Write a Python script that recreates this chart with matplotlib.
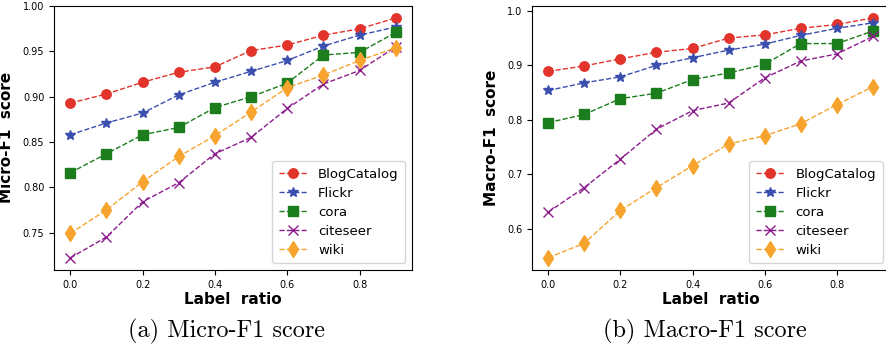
import numpy as np
import matplotlib.pyplot as plt

ratio = [0.0, 0.1, 0.2, 0.3, 0.4, 0.5, 0.6, 0.7, 0.8, 0.9]
names = ['BlogCatalog', 'Flickr', 'cora', 'citeseer', 'wiki']

micro_blog = [0.893, 0.903, 0.916, 0.927, 0.933, 0.951, 0.957, 0.968, 0.975, 0.987]
micro_flickr = [0.858, 0.871, 0.882, 0.902, 0.916, 0.928, 0.940, 0.956, 0.968, 0.977]
micro_cora = [0.816, 0.837, 0.858, 0.866, 0.888, 0.900, 0.915, 0.946, 0.949, 0.971]
micro_citeseer = [0.722, 0.745, 0.784, 0.805, 0.837, 0.855, 0.887, 0.914, 0.929, 0.955]
micro_wiki = [0.749, 0.775, 0.806, 0.834, 0.857, 0.883, 0.910, 0.924, 0.940, 0.954]

macro_blog = [0.889, 0.899, 0.912, 0.924, 0.931, 0.950, 0.956, 0.968, 0.975, 0.987]
macro_flickr = [0.854, 0.868, 0.879, 0.900, 0.914, 0.928, 0.939, 0.955, 0.968, 0.978]
macro_cora = [0.795, 0.810, 0.839, 0.849, 0.874, 0.886, 0.902, 0.940, 0.940, 0.963]
macro_citeseer = [0.631, 0.676, 0.728, 0.783, 0.817, 0.831, 0.877, 0.908, 0.921, 0.953]
macro_wiki = [0.547, 0.574, 0.634, 0.676, 0.716, 0.756, 0.771, 0.793, 0.828, 0.861]

colors = ['#e3342b', '#3a4fae', '#1b7d1b', '#8c1c8c', '#f7a42e']
markers = ['o', '*', 's', 'x', 'd']
msizes = [6.8, 7.5, 6.8, 7, 8]

fig = plt.figure(figsize=(8.86, 3.5), dpi=100)
ax1 = fig.add_axes([0.061, 0.229, 0.404, 0.754])
ax2 = fig.add_axes([0.6005, 0.229, 0.403, 0.754])

panels = [
    (ax1, [micro_blog, micro_flickr, micro_cora, micro_citeseer, micro_wiki], 'Micro-F1  score'),
    (ax2, [macro_blog, macro_flickr, macro_cora, macro_citeseer, macro_wiki], 'Macro-F1  score'),
]

for ax, series, ylab in panels:
    for vals, name, c, m, ms in zip(series, names, colors, markers, msizes):
        ax.plot(ratio, vals, linestyle='--', color=c, marker=m, markersize=ms,
                linewidth=1.0, label=name)
    ax.tick_params(labelsize=7)
    ax.set_xticks([0.0, 0.2, 0.4, 0.6, 0.8])
    ax.set_xlabel('Label  ratio', fontsize=11, fontweight='bold', labelpad=2)
    ax.set_ylabel(ylab, fontsize=11, fontweight='bold', labelpad=6)
    ax.legend(loc='lower right', fontsize=9.5, handlelength=2.2, borderpad=0.5,
              labelspacing=0.45)

ax1.yaxis.set_major_formatter(plt.FormatStrFormatter('%.2f'))
ax2.set_yticks([0.6, 0.7, 0.8, 0.9, 1.0])

fig.text(0.256, 0.035, '(a) Micro-F1 score', family='cmr10', fontsize=17.5, ha='center')
fig.text(0.796, 0.035, '(b) Macro-F1 score', family='cmr10', fontsize=17.5, ha='center')

fig.savefig('out.png', dpi=100)
